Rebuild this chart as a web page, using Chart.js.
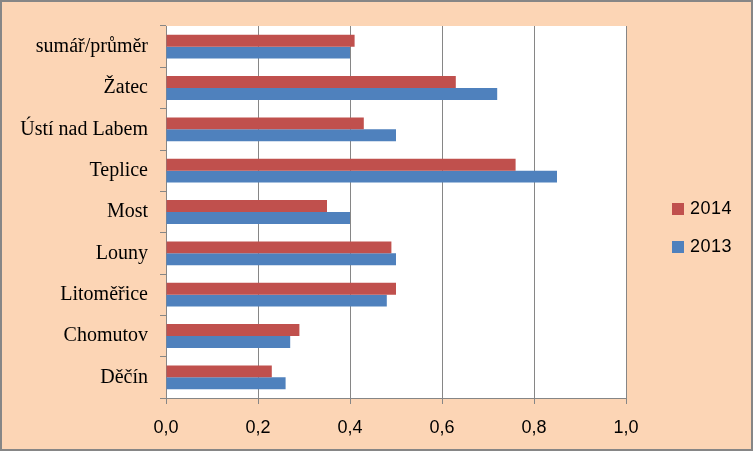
<!DOCTYPE html>
<html>
<head>
<meta charset="utf-8">
<script src="https://cdn.jsdelivr.net/npm/chart.js@4.4.1/dist/chart.umd.min.js"></script>
<style>
  html, body { margin: 0; padding: 0; background: #fcd5b5; }
  #wrap { position: relative; width: 753px; height: 451px; box-sizing: border-box; border: 2px solid #868686; background: #fcd5b5; overflow: hidden; }
  #chart { display: block; }
  .leg { position: absolute; left: 670px; display: flex; align-items: center; font: 18px "Liberation Sans", Arial, sans-serif; letter-spacing: 0.5px; color: #000; }
  .leg i { display: inline-block; width: 12px; height: 12px; margin-right: 6px; }
</style>
</head>
<body>
<div id="wrap">
  <canvas id="chart" width="749" height="447"></canvas>
  <div class="leg" style="top:196px"><i style="background:#c0504d"></i>2014</div>
  <div class="leg" style="top:234px"><i style="background:#4f81bd"></i>2013</div>
</div>
<script>
  const categories = ["sumář/průměr", "Žatec", "Ústí nad Labem", "Teplice", "Most", "Louny", "Litoměřice", "Chomutov", "Děčín"];
  const values2014 = [0.41, 0.63, 0.43, 0.76, 0.35, 0.49, 0.50, 0.29, 0.23];
  const values2013 = [0.40, 0.72, 0.50, 0.85, 0.40, 0.50, 0.48, 0.27, 0.26];
  const xTicks = [0, 0.2, 0.4, 0.6, 0.8, 1.0];

  const GRID = "#868686";

  // white plot area on the peach background
  const plotBg = {
    id: "plotBg",
    beforeDraw(chart) {
      const { ctx, chartArea: a } = chart;
      ctx.save();
      ctx.fillStyle = "#fff";
      ctx.fillRect(a.left, a.top, a.right - a.left, a.bottom - a.top);
      ctx.restore();
    },
  };

  new Chart(document.getElementById("chart"), {
    type: "bar",
    data: {
      labels: categories,
      datasets: [
        { label: "2014", data: values2014, backgroundColor: "#c0504d", categoryPercentage: 0.576, barPercentage: 1 },
        { label: "2013", data: values2013, backgroundColor: "#4f81bd", categoryPercentage: 0.576, barPercentage: 1 },
      ],
    },
    options: {
      indexAxis: "y", responsive: false, animation: false,
      layout: { padding: { top: 21, right: 125, bottom: 0, left: 0 } },
      plugins: { legend: { display: false }, tooltip: { enabled: false } },
      scales: {
        x: {
          min: 0, max: 1,
          afterBuildTicks: s => { s.ticks = xTicks.map(v => ({ value: v })); },
          afterFit: s => { s.height = 51; },
          ticks: { padding: 13, color: "#000", font: { family: "Liberation Sans", size: 18 }, callback: v => Number(v).toFixed(1).replace(".", ",") },
          grid: { color: GRID, tickLength: 6, lineWidth: 1 },
          border: { color: GRID, width: 1 },
        },
        y: {
          afterFit: s => { s.width = 164; },
          ticks: { padding: 12, color: "#000", font: { family: "Liberation Serif", size: 20 } },
          grid: { offset: true, drawOnChartArea: false, color: GRID, tickLength: 6 },
          border: { color: GRID, width: 1 },
        },
      },
    },
    plugins: [plotBg],
  });
</script>
</body>
</html>
